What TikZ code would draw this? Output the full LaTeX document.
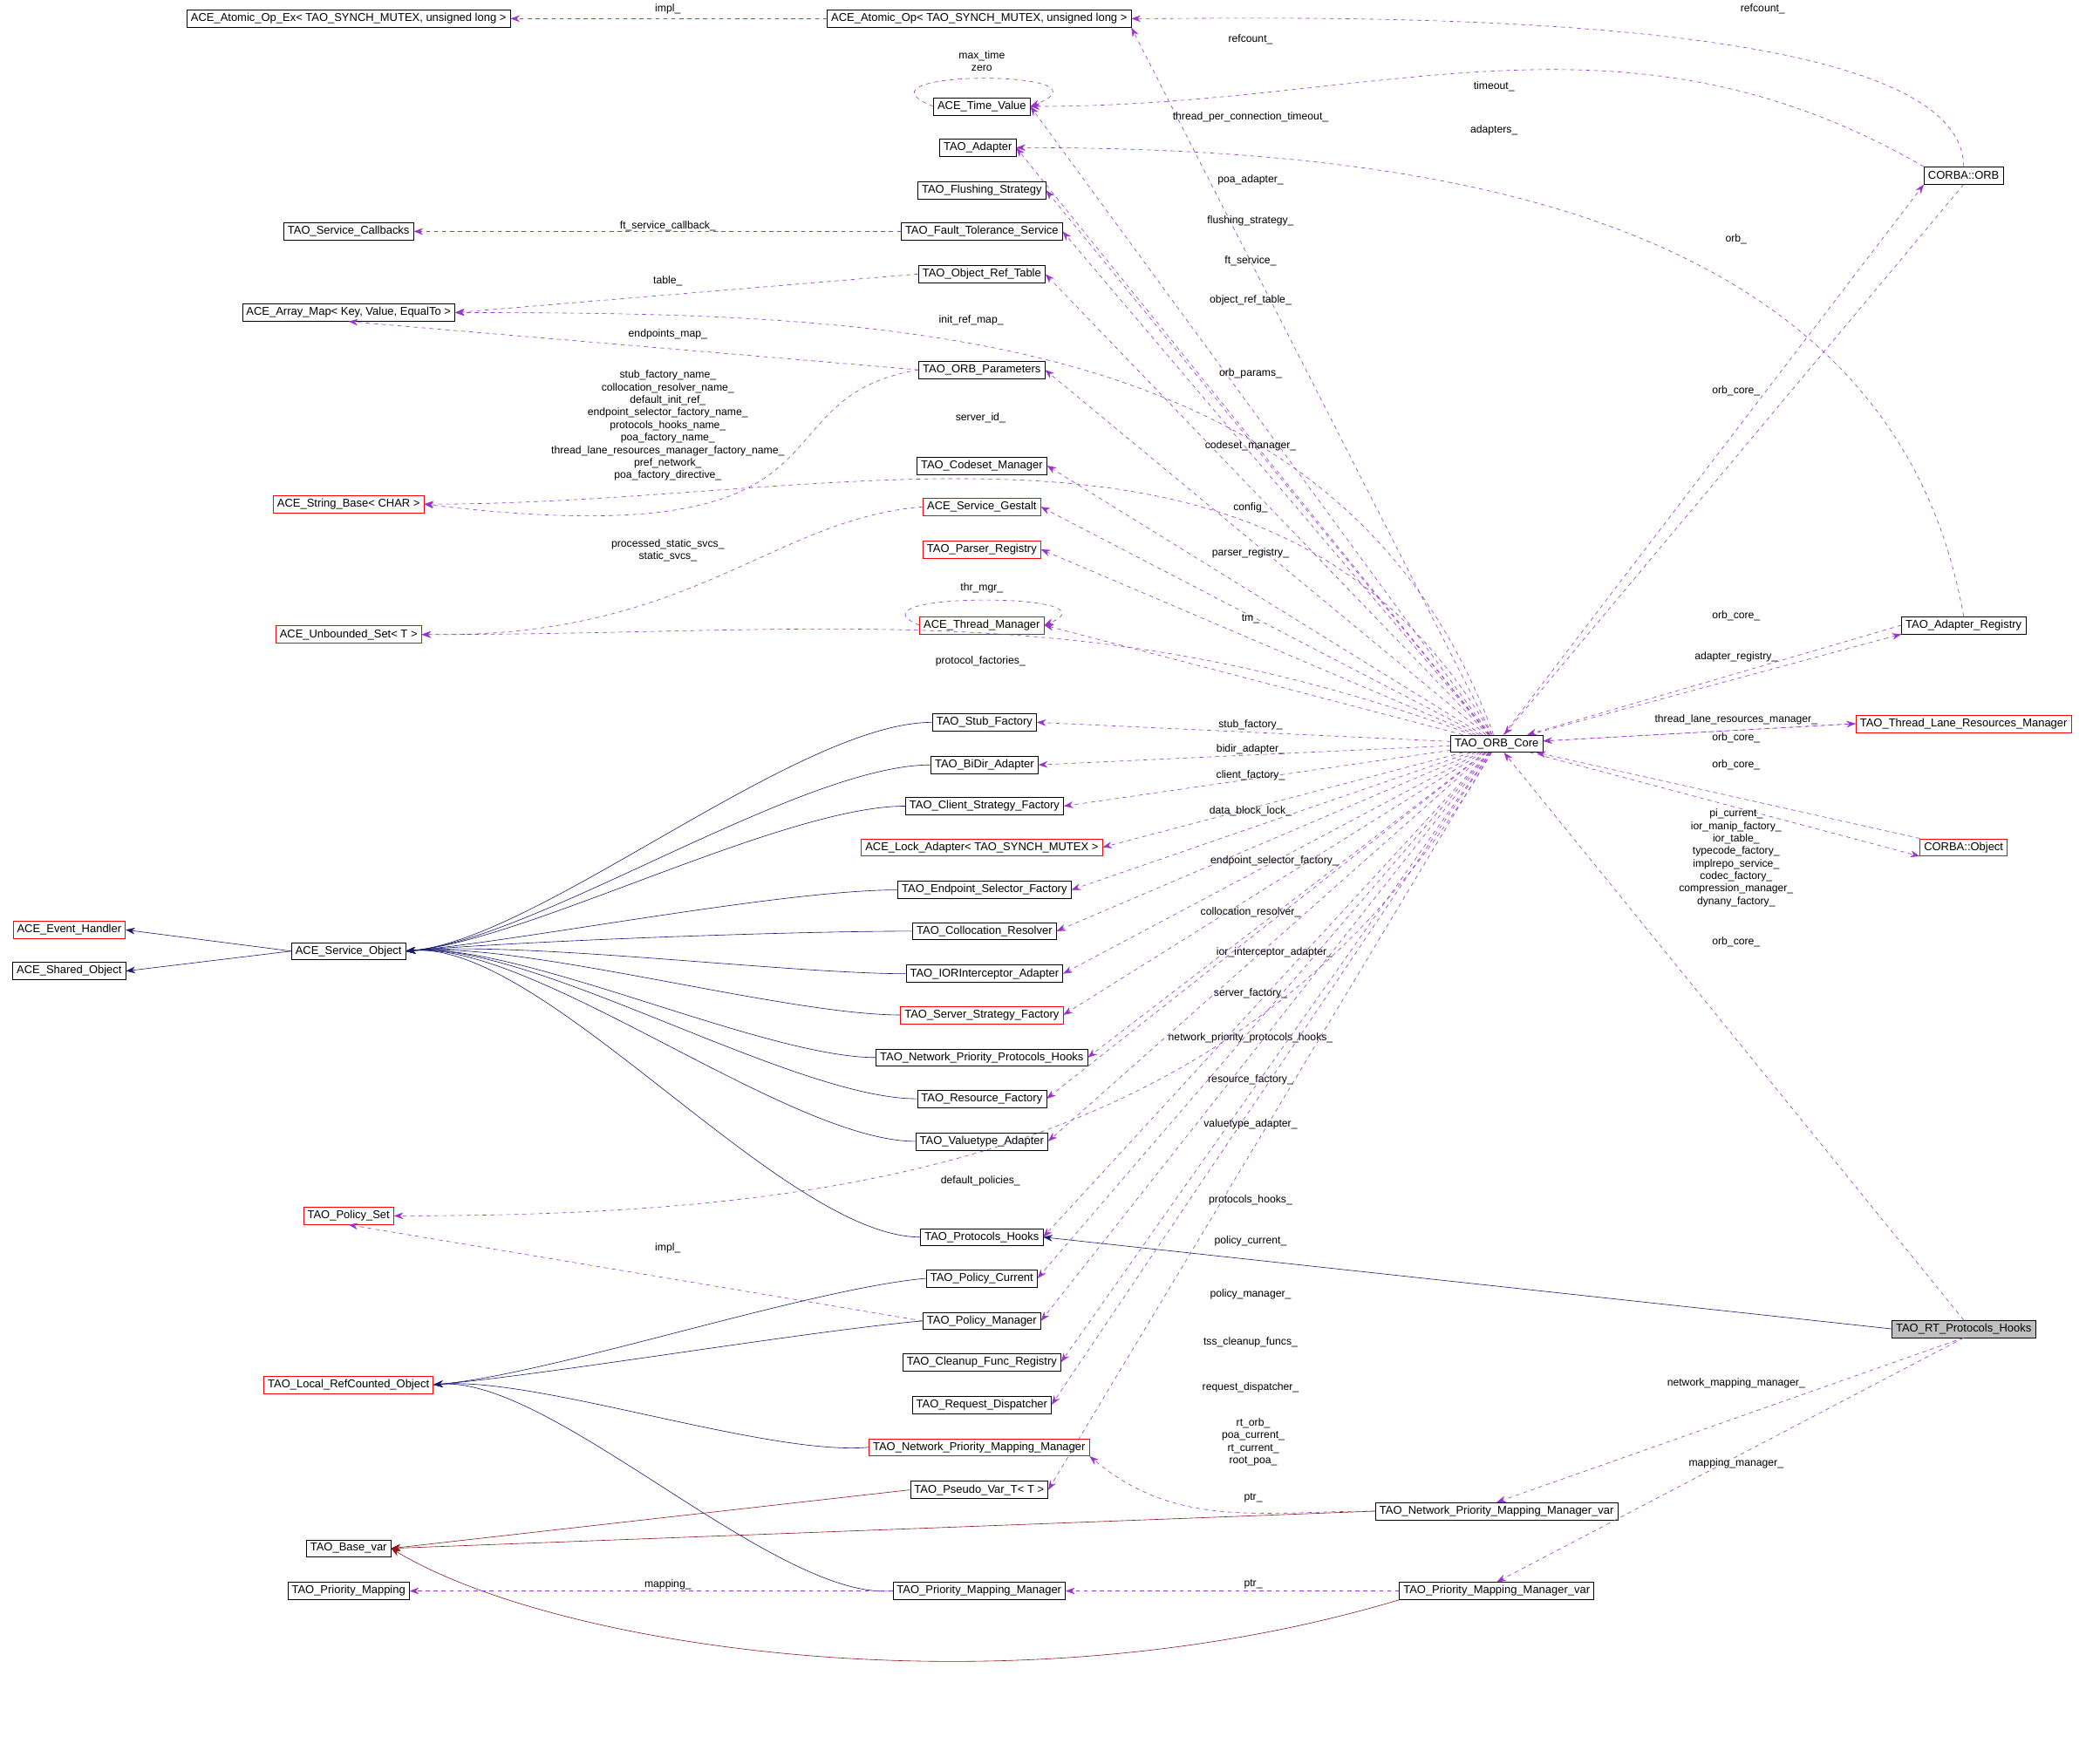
\documentclass[tikz,border=0pt]{standalone}
\usepackage{fontspec}
\setmainfont{Liberation Sans}
\usetikzlibrary{arrows.meta}
\definecolor{depcol}{HTML}{9A32CD}
\definecolor{inhcol}{HTML}{191970}
\definecolor{tplcol}{HTML}{8B1A1A}
\tikzset{
  cls/.style={draw=black, fill=white, font=\fontsize{8.5}{10}\selectfont, inner xsep=3pt, inner ysep=1pt, minimum height=13pt},
  clsred/.style={cls, draw=red},
  clsgray/.style={cls, fill=black!25},
  lbl/.style={font=\fontsize{8}{9.4}\selectfont, align=center, inner sep=0pt},
  dep/.style={draw=depcol, dashed, -{Stealth[length=7pt,width=5pt]}},
  inh/.style={draw=inhcol, -{Stealth[length=7pt,width=5pt]}},
  tpl/.style={draw=tplcol, -{Stealth[length=7pt,width=5pt]}},
}
\begin{document}
\begin{tikzpicture}[x=1pt,y=-1pt]
\useasboundingbox (0,0) rectangle (1568,1326);

% class nodes
\node[cls] (amx) at (262,14) {ACE\_Atomic\_Op\_Ex< TAO\_SYNCH\_MUTEX, unsigned long >};
\node[cls] (am) at (736,14) {ACE\_Atomic\_Op< TAO\_SYNCH\_MUTEX, unsigned long >};
\node[cls] (tv) at (738,80) {ACE\_Time\_Value};
\node[cls] (adp) at (735,111) {TAO\_Adapter};
\node[cls] (fs) at (738,143) {TAO\_Flushing\_Strategy};
\node[cls] (scb) at (262,174) {TAO\_Service\_Callbacks};
\node[cls] (fts) at (738,174) {TAO\_Fault\_Tolerance\_Service};
\node[cls] (ort) at (738,206) {TAO\_Object\_Ref\_Table};
\node[cls] (arr) at (262,235) {ACE\_Array\_Map< Key, Value, EqualTo >};
\node[cls] (orbp) at (738,278) {TAO\_ORB\_Parameters};
\node[cls] (csm) at (738,350) {TAO\_Codeset\_Manager};
\node[clsred] (strb) at (262,379) {ACE\_String\_Base< CHAR >};
\node[clsred] (gest) at (738,381) {ACE\_Service\_Gestalt};
\node[clsred] (pars) at (738,413) {TAO\_Parser\_Registry};
\node[clsred] (uset) at (262,477) {ACE\_Unbounded\_Set< T >};
\node[clsred] (thm) at (738,470) {ACE\_Thread\_Manager};
\node[cls] (stub) at (740,543) {TAO\_Stub\_Factory};
\node[cls] (bidir) at (740,575) {TAO\_BiDir\_Adapter};
\node[cls] (csf) at (740,606) {TAO\_Client\_Strategy\_Factory};
\node[clsred] (lock) at (738,637) {ACE\_Lock\_Adapter< TAO\_SYNCH\_MUTEX >};
\node[cls] (esf) at (740,669) {TAO\_Endpoint\_Selector\_Factory};
\node[cls] (colr) at (740,700) {TAO\_Collocation\_Resolver};
\node[cls] (ior) at (740,732) {TAO\_IORInterceptor\_Adapter};
\node[clsred] (ssf) at (738,763) {TAO\_Server\_Strategy\_Factory};
\node[cls] (npph) at (738,795) {TAO\_Network\_Priority\_Protocols\_Hooks};
\node[cls] (resf) at (738,826) {TAO\_Resource\_Factory};
\node[cls] (vta) at (738,858) {TAO\_Valuetype\_Adapter};
\node[cls] (ph) at (738,930) {TAO\_Protocols\_Hooks};
\node[cls] (pcur) at (738,961) {TAO\_Policy\_Current};
\node[cls] (pman) at (738,993) {TAO\_Policy\_Manager};
\node[cls] (cfr) at (738,1024) {TAO\_Cleanup\_Func\_Registry};
\node[cls] (rd) at (738,1056) {TAO\_Request\_Dispatcher};
\node[clsred] (npmm) at (736,1088) {TAO\_Network\_Priority\_Mapping\_Manager};
\node[cls] (pvar) at (736,1120) {TAO\_Pseudo\_Var\_T< T >};
\node[cls] (pmm) at (736,1196) {TAO\_Priority\_Mapping\_Manager};
\node[clsred] (evh) at (52,699) {ACE\_Event\_Handler};
\node[cls] (sho) at (52,730) {ACE\_Shared\_Object};
\node[cls] (so) at (262,715) {ACE\_Service\_Object};
\node[clsred] (pset) at (262,914) {TAO\_Policy\_Set};
\node[clsred] (lrc) at (262,1041) {TAO\_Local\_RefCounted\_Object};
\node[cls] (bv) at (262,1164) {TAO\_Base\_var};
\node[cls] (pmap) at (262,1196) {TAO\_Priority\_Mapping};
\node[cls] (core) at (1125,559) {TAO\_ORB\_Core};
\node[cls] (orb) at (1476,132) {CORBA::ORB};
\node[cls] (areg) at (1476,470) {TAO\_Adapter\_Registry};
\node[clsred] (tlrm) at (1476,544) {TAO\_Thread\_Lane\_Resources\_Manager};
\node[clsred] (obj) at (1476,637) {CORBA::Object};
\node[clsgray] (rtph) at (1476,999) {TAO\_RT\_Protocols\_Hooks};
\node[cls] (npmmv) at (1125,1136) {TAO\_Network\_Priority\_Mapping\_Manager\_var};
\node[cls] (pmmv) at (1125,1196) {TAO\_Priority\_Mapping\_Manager\_var};

% inheritance
\foreach \d in {stub,bidir,csf,esf,colr,ior,ssf,npph,resf,vta,ph}
  \draw[inh] (\d.west) to[out=180,in=5,looseness=0.6] (so.east);
\draw[inh] (so.west) -- (evh.east);
\draw[inh] (so.west) -- (sho.east);
\foreach \d in {pcur,pman,npmm,pmm}
  \draw[inh] (\d.west) to[out=185,in=5,looseness=0.6] (lrc.east);
\draw[inh] (rtph.west) -- (ph.east);

% template instances
\draw[tpl] (pvar.west) -- (bv.east);
\draw[tpl] (npmmv.west) -- (bv.east);
\draw[tpl] (pmmv.south west) .. controls (760,1290) and (420,1240) .. (bv.east);

% members of the ORB core
\foreach \t/\a/\lx/\ly/\txt in {
  am/south east/940/30/refcount\_, tv/east/940/88/thread\_per\_connection\_timeout\_,
  adp/east/940/135/poa\_adapter\_, fs/east/940/166/flushing\_strategy\_,
  fts/east/940/196/ft\_service\_, ort/east/940/226/object\_ref\_table\_,
  orbp/east/940/281/orb\_params\_,
  csm/east/940/335/codeset\_manager\_,
  gest/east/940/382/config\_, pars/east/940/416/parser\_registry\_,
  thm/east/940/465/tm\_,
  stub/east/940/545/stub\_factory\_, bidir/east/940/563/bidir\_adapter\_,
  csf/east/940/583/client\_factory\_, lock/east/940/610/data\_block\_lock\_,
  esf/east/958/647/endpoint\_selector\_factory\_, colr/east/940/686/collocation\_resolver\_,
  ior/east/958/716/ior\_interceptor\_adapter\_, ssf/east/940/747/server\_factory\_,
  npph/east/940/780/network\_priority\_protocols\_hooks\_, resf/east/940/812/resource\_factory\_,
  vta/east/940/845/valuetype\_adapter\_,
  ph/east/940/902/protocols\_hooks\_, pcur/east/940/933/policy\_current\_,
  pman/east/940/973/policy\_manager\_, cfr/east/940/1009/tss\_cleanup\_funcs\_,
  rd/east/940/1043/request\_dispatcher\_,
  pvar/east/942/1084/{rt\_orb\_\\poa\_current\_\\rt\_current\_\\root\_poa\_},
  orb/south west/1305/180/orb\_, areg/south west/1305/494/adapter\_registry\_,
  tlrm/west/1305/541/thread\_lane\_resources\_manager\_,
  obj/south west/1305/645/{pi\_current\_\\ior\_manip\_factory\_\\ior\_table\_\\typecode\_factory\_\\implrepo\_service\_\\codec\_factory\_\\compression\_manager\_\\dynany\_factory\_}}
{
  \draw[dep] (core) -- (\t.\a);
  \node[lbl] at (\lx,\ly) {\txt};
}
% long ones to the left column
\draw[dep] (core) to[out=110,in=0] (arr.east);
\node[lbl] at (730,241) {init\_ref\_map\_};
\draw[dep] (core) to[out=120,in=0] (strb.east);
\node[lbl] at (737,314) {server\_id\_};
\draw[dep] (core) to[out=160,in=0] (uset.east);
\node[lbl] at (737,497) {protocol\_factories\_};
\draw[dep] (core) to[out=240,in=0] (pset.east);
\node[lbl] at (737,888) {default\_policies\_};

% back to the ORB core
\foreach \s/\a/\lx/\ly in {orb/south/1305/294, areg/west/1305/463, tlrm/west/1305/555, obj/north west/1305/575, rtph/north/1305/708}
{
  \draw[dep] (\s.\a) -- (core);
  \node[lbl] at (\lx,\ly) {orb\_core\_};
}

% other members
\draw[dep] (am.west) -- (amx.east);
\node[lbl] at (502,7) {impl\_};
\draw[dep] (orb.north) to[out=90,in=0,looseness=0.5] (am.east);
\node[lbl] at (1325,7) {refcount\_};
\draw[dep] (orb.north west) to[out=150,in=0] (tv.east);
\node[lbl] at (1123,65) {timeout\_};
\draw[dep] (tv.west) .. controls +(-70,-28) and +(70,-28) .. (tv.east);
\node[lbl] at (738,46) {max\_time\\zero};
\draw[dep] (areg.north) to[out=100,in=0] (adp.east);
\node[lbl] at (1123,98) {adapters\_};
\draw[dep] (fts.west) -- (scb.east);
\node[lbl] at (502,170) {ft\_service\_callback\_};
\draw[dep] (ort.west) -- (arr.east);
\node[lbl] at (502,211) {table\_};
\draw[dep] (orbp.west) -- (arr.south);
\node[lbl] at (502,251) {endpoints\_map\_};
\draw[dep] (orbp.west) .. controls (560,300) and (660,420) .. (strb.east);
\node[lbl] at (502,320) {stub\_factory\_name\_\\collocation\_resolver\_name\_\\default\_init\_ref\_\\endpoint\_selector\_factory\_name\_\\protocols\_hooks\_name\_\\poa\_factory\_name\_\\thread\_lane\_resources\_manager\_factory\_name\_\\pref\_network\_\\poa\_factory\_directive\_};
\draw[dep] (gest.west) .. controls (580,390) and (520,480) .. (uset.east);
\node[lbl] at (502,414) {processed\_static\_svcs\_\\static\_svcs\_};
\draw[dep] (thm.west) .. controls +(-60,-25) and +(60,-25) .. (thm.east);
\node[lbl] at (738,442) {thr\_mgr\_};
\draw[dep] (pman.west) -- (pset.south);
\node[lbl] at (502,938) {impl\_};
\draw[dep] (rtph.south) -- (npmmv.north);
\node[lbl] at (1305,1040) {network\_mapping\_manager\_};
\draw[dep] (rtph.south) -- (pmmv.north);
\node[lbl] at (1305,1100) {mapping\_manager\_};
\draw[dep] (npmmv.west) to[out=180,in=-40] (npmm.south east);
\node[lbl] at (942,1126) {ptr\_};
\draw[dep] (pmmv.west) -- (pmm.east);
\node[lbl] at (942,1191) {ptr\_};
\draw[dep] (pmm.west) -- (pmap.east);
\node[lbl] at (502,1191) {mapping\_};
\end{tikzpicture}
\end{document}
